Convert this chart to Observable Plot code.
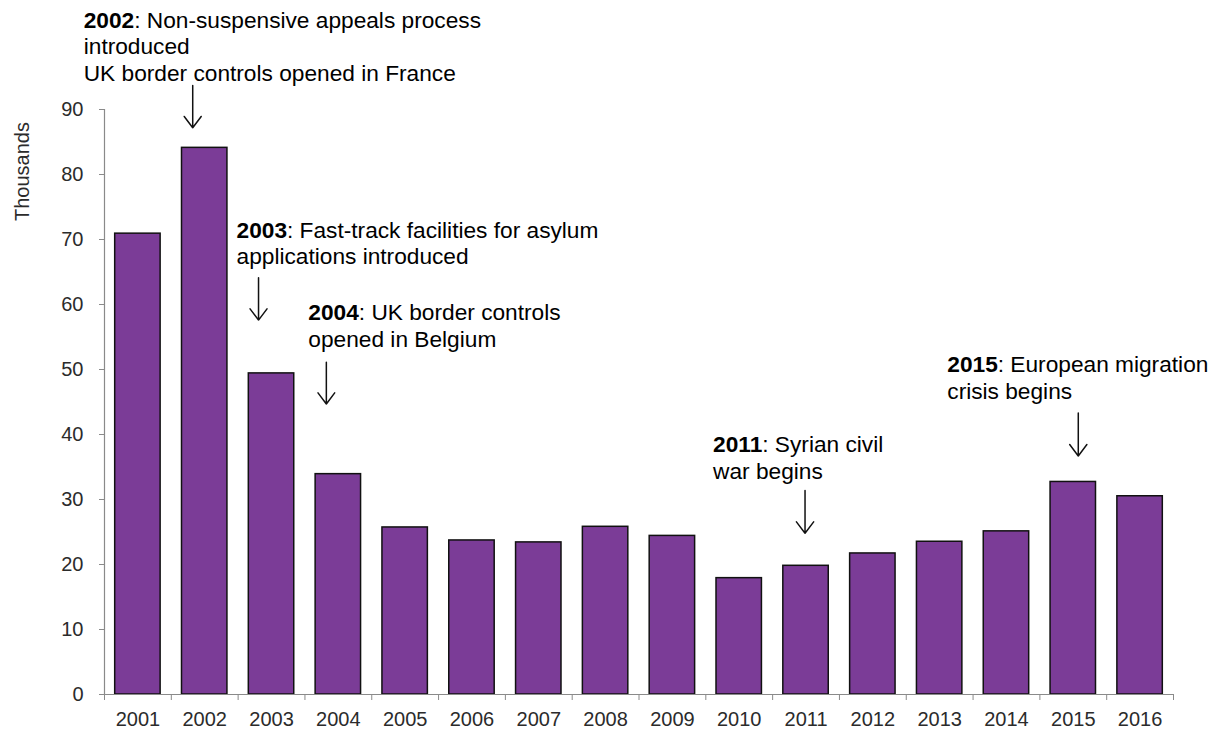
<!DOCTYPE html>
<html>
<head>
<meta charset="utf-8">
<script src="https://cdn.jsdelivr.net/npm/d3@7"></script>
<script src="https://cdn.jsdelivr.net/npm/@observablehq/plot@0.6"></script>
<style>
  html, body { margin: 0; padding: 0; background: #fff; }
  #chart svg { display: block; }
</style>
</head>
<body>
<div id="chart"></div>
<script>
// ---- Data ----
const years  = [2001, 2002, 2003, 2004, 2005, 2006, 2007, 2008, 2009, 2010, 2011, 2012, 2013, 2014, 2015, 2016];
const values = [70.9, 84.1, 49.4, 33.9, 25.7, 23.7, 23.4, 25.8, 24.4, 17.9, 19.8, 21.7, 23.5, 25.1, 32.7, 30.5];
const yTicks = [0, 10, 20, 30, 40, 50, 60, 70, 80, 90];
const yLabel = "Thousands";

const noteYears = [2002, 2003, 2004, 2011, 2015];
const noteBold  = ["2002", "2003", "2004", "2011", "2015"];
const noteLines = [
  [": Non-suspensive appeals process", "introduced", "UK border controls opened in France"],
  [": Fast-track facilities for asylum", "applications introduced"],
  [": UK border controls", "opened in Belgium"],
  [": Syrian civil", "war begins"],
  [": European migration", "crisis begins"]
];

// ---- Layout (annotation placement) ----
const W = 1225, H = 729, ML = 104, MR = 52, MT = 109, MB = 35;
const noteTextDx   = [-121, -35, -30, -93, -126];   // px from bar centre
const noteTextY    = [103.7, 71.4, 58.7, 38.4, 50.7];
const noteArrowTop = [93.7, 64.1, 51.1, 31.4, 43.3];
const noteArrowTip = [87.2, 57.6, 44.7, 24.8, 36.7];
const noteArrowDx  = [-12, -13, -12, -1, 5];        // px from bar centre

const FONT = "'Liberation Sans', Arial, Helvetica, sans-serif";
const noteSize = 22.7;
const lineH = 26.5;

const bounds = years.map(y => y - 0.5).concat([years[years.length - 1] + 0.5]);
const xSpan = bounds[bounds.length - 1] - bounds[0];
const pxX = (W - ML - MR) / xSpan;       // px per year
const pxY = (H - MT - MB) / 90;          // px per thousand

const bars = years.map((year, i) => ({year, value: values[i]}));

const ctx = document.createElement("canvas").getContext("2d");
ctx.font = `bold ${noteSize}px ${FONT}`;

const notes = noteYears.map((year, i) => ({
  year,
  bold: noteBold[i],
  tx: year + noteTextDx[i] / pxX,
  tx2: year + (noteTextDx[i] + ctx.measureText(noteBold[i]).width) / pxX,
  ty: noteTextY[i],
  ax: year + noteArrowDx[i] / pxX,
  a1: noteArrowTop[i],
  a2: noteArrowTip[i]
}));

const firstLines = notes.map((n, i) => ({...n, text: noteLines[i][0]}));
const restLines = [];
notes.forEach((n, i) => {
  noteLines[i].slice(1).forEach((t, k) => restLines.push({...n, text: t, ly: n.ty - (k + 1) * lineH / pxY}));
});

const chart = Plot.plot({
  width: W,
  height: H,
  marginLeft: ML,
  marginRight: MR,
  marginTop: MT,
  marginBottom: MB,
  style: {fontFamily: FONT, fontSize: "20px", background: "#fff"},
  x: {type: "linear", domain: [bounds[0], bounds[bounds.length - 1]], axis: null},
  y: {domain: [0, 90], axis: null},
  marks: [
    Plot.rect(bars, {
      x1: d => d.year - 0.34,
      x2: d => d.year + 0.34,
      y1: 0,
      y2: "value",
      fill: "#7b3c97",
      stroke: "#111",
      strokeWidth: 1.5
    }),
    Plot.axisY({ticks: yTicks, tickSize: 5, tickPadding: 16, fontSize: 20, stroke: "#8a8a8a", fill: "#2b2b2b", label: null}),
    Plot.ruleX([bounds[0]], {y1: 0, y2: 90, stroke: "#8a8a8a", strokeWidth: 1.2}),
    Plot.ruleY([0], {x1: bounds[0], x2: bounds[bounds.length - 1], stroke: "#8a8a8a", strokeWidth: 1.2}),
    Plot.axisX({ticks: bounds, tickSize: 6, tickFormat: () => "", stroke: "#8a8a8a", label: null}),
    Plot.axisX({ticks: years, tickSize: 0, tickPadding: 17, fontSize: 20, tickFormat: d => String(d), fill: "#2b2b2b", label: null}),
    Plot.text([yLabel], {
      frameAnchor: "top-left", dx: -82, dy: 62, rotate: -90,
      fontSize: 20, fill: "#2b2b2b", textAnchor: "middle", lineAnchor: "middle"
    }),
    Plot.arrow(notes, {
      x1: "ax", x2: "ax", y1: "a1", y2: "a2",
      stroke: "#111", strokeWidth: 1.5, headLength: 15, headAngle: 74
    }),
    Plot.text(notes, {
      x: "tx", y: "ty", text: "bold",
      textAnchor: "start", lineAnchor: "middle", fontSize: noteSize, fontWeight: "bold", fill: "#000"
    }),
    Plot.text(firstLines, {
      x: "tx2", y: "ty", text: "text",
      textAnchor: "start", lineAnchor: "middle", fontSize: noteSize, fill: "#000"
    }),
    Plot.text(restLines, {
      x: "tx", y: "ly", text: "text",
      textAnchor: "start", lineAnchor: "middle", fontSize: noteSize, fill: "#000"
    })
  ]
});

document.getElementById("chart").appendChild(chart);
</script>
</body>
</html>
